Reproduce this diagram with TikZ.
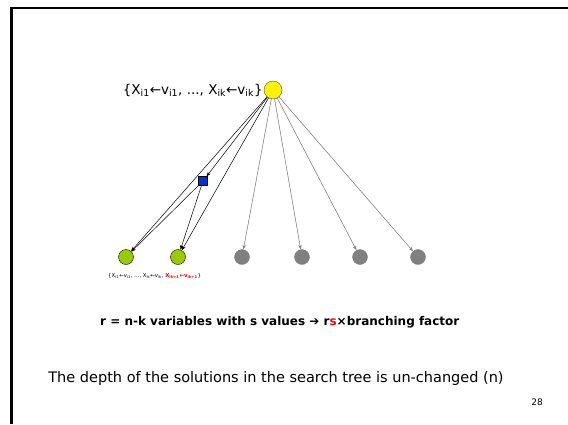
\documentclass[tikz,border=0pt]{standalone}
\usepackage{fontspec}
\setmainfont{DejaVu Sans}
\usepackage{xcolor}
\usetikzlibrary{arrows.meta,positioning}

\definecolor{leafgreen}{RGB}{153,204,0}
\definecolor{pickblue}{RGB}{0,51,204}
\definecolor{nodegray}{RGB}{128,128,128}
\newcommand{\lo}[1]{\textsubscript{#1}}

\begin{document}
\begin{tikzpicture}[
                    x=1pt, y=-1pt,
                    root/.style={circle, draw=black!70, fill=yellow, minimum size=18pt, inner sep=0pt},
                    done/.style={circle, draw=black, fill=leafgreen, minimum size=15pt, inner sep=0pt},
                    open/.style={circle, draw=nodegray, fill=nodegray, minimum size=15pt, inner sep=0pt},
                    pick/.style={rectangle, draw=black, fill=pickblue, minimum size=9pt, inner sep=0pt},
                    rel/.style={-{Stealth[length=4.5pt,width=3.5pt]}, line width=0.5pt},
                    grayrel/.style={rel, draw=nodegray, fill=nodegray},
                    note/.style={font=\fontsize{5.4}{6}\selectfont, inner sep=0pt}
                ]
                    \useasboundingbox (0,0) rectangle (568,424);
                    % Slide frame
                    \draw[line width=3pt] (11,424) -- (11,7.5);
                    \draw[line width=2pt] (10,8) -- (568,8);

                    % Nodes
                    \node[root] (Root) at (273,90) {};
                    \node[left=1pt of Root, font=\fontsize{13.5}{15}\selectfont, inner sep=0pt] (RootLabel)
                        {\{X\lo{i1}←v\lo{i1}, ..., X\lo{ik}←v\lo{ik}\}};
                    \node[pick] (Pick) at (203,181) {};
                    \node[done] (Leaf1) at (126,257) {};
                    \node[done] (Leaf2) at (178,257) {};
                    \node[open] (Open1) at (242,257) {};
                    \node[open] (Open2) at (302,257) {};
                    \node[open] (Open3) at (360,257) {};
                    \node[open] (Open4) at (418,257) {};
                    \node[note, anchor=west] (LeafLabel) at (108,276)
                        {\{X\lo{i1}←v\lo{i1}, ..., X\lo{ik}←v\lo{ik}, \textcolor{red}{\bfseries X\lo{ik+1}←v\lo{ik+1}}\}};

                    % Edges
                    \draw[rel] (Root) -- (Pick);
                    \draw[rel] (Root) -- (Leaf1);
                    \draw[rel] (Root) -- (Leaf2);
                    \draw[rel] (Pick) -- (Leaf1);
                    \draw[rel] (Pick) -- (Leaf2);
                    \draw[grayrel] (Root) -- (Open1);
                    \draw[grayrel] (Root) -- (Open2);
                    \draw[grayrel] (Root) -- (Open3);
                    \draw[grayrel] (Root) -- (Open4);

                    % Text
                    \node[anchor=west, font=\bfseries\fontsize{12}{14}\selectfont, inner sep=0pt] (Branching) at (100,322)
                        {r = n-k variables with s values ➔ r\textcolor{red}{s}×branching factor};
                    \node[font=\fontsize{14.5}{16}\selectfont, inner sep=0pt] (Depth) at (276,378)
                        {The depth of the solutions in the search tree is un-changed (n)};
                    \node[font=\fontsize{9}{10}\selectfont, inner sep=0pt] (PageNo) at (537,402) {28};
                \end{tikzpicture}
\end{document}
